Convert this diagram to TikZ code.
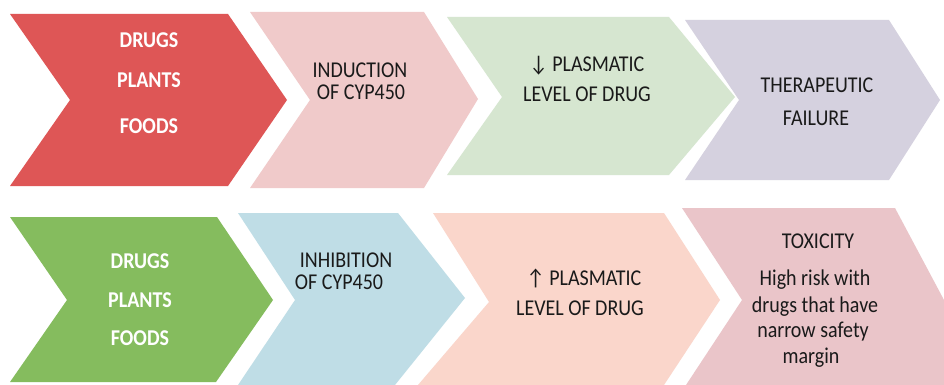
\documentclass[tikz,border=0pt]{standalone}
\usepackage{fontspec}
\setmainfont{Carlito}
\definecolor{cRed}{HTML}{DE5656}
\definecolor{cPinkA}{HTML}{F0CACA}
\definecolor{cGreenA}{HTML}{D6E6D0}
\definecolor{cPurple}{HTML}{D5D1DF}
\definecolor{cGreenB}{HTML}{85BC5E}
\definecolor{cBlue}{HTML}{BFDDE6}
\definecolor{cSalmon}{HTML}{FAD6CB}
\definecolor{cPinkB}{HTML}{EAC5C9}
\definecolor{cText}{HTML}{1A1A1A}
\newcommand{\tall}[1]{\scalebox{1}[1.13]{#1}}
\begin{document}
\begin{tikzpicture}[x=1pt,y=-1pt,
  lbl/.style={anchor=base,inner sep=0pt,text=cText,font=\fontsize{20}{23}\selectfont},
  wlbl/.style={lbl,text=white,font=\fontsize{20}{23}\selectfont\bfseries}]
\useasboundingbox[fill=white] (0,0) rectangle (944,385);
% top row
\fill[cRed]    (10,14) -- (228,14) -- (287,100) -- (228,186) -- (10,186) -- (70,100) -- cycle;
\fill[cPinkA]  (250,12) -- (424,12) -- (478,99) -- (424,188) -- (250,188) -- (310,100) -- cycle;
\fill[cGreenA] (447,17) -- (669,17) -- (735,97) -- (669,175) -- (447,175) -- (502,97) -- cycle;
\fill[cPurple] (685,20) -- (889,20) -- (940,100) -- (889,180) -- (685,180) -- (739,100) -- cycle;
% bottom row
\fill[cGreenB] (10,217) -- (217,217) -- (273,300) -- (216,382) -- (10,382) -- (67,300) -- cycle;
\fill[cBlue]   (238,213) -- (398,213) -- (465,298) -- (395,385) -- (238,385) -- (295,300) -- cycle;
\fill[cSalmon] (433,213) -- (664,213) -- (720,300) -- (664,385) -- (418,385) -- (489,302) -- cycle;
\fill[cPinkB]  (682,208) -- (895,208) -- (944,300) -- (944,385) -- (686,385) -- (742,300) -- cycle;
% texts top
\node[wlbl] (t1a) at (149,48) {\tall{DRUGS}};
\node[wlbl] (t1b) at (149,88) {\tall{PLANTS}};
\node[wlbl] (t1c) at (149,133) {\tall{FOODS}};
\node[lbl] (t2a) at (360,78) {\tall{INDUCTION}};
\node[lbl] (t2b) at (361,100) {\tall{OF CYP450}};
\node[lbl] (t3a) at (587,72) {\tall{↓ PLASMATIC}};
\node[lbl] (t3b) at (587,102) {\tall{LEVEL OF DRUG}};
\node[lbl] (t4a) at (817,93) {\tall{THERAPEUTIC}};
\node[lbl] (t4b) at (816,125) {\tall{FAILURE}};
% texts bottom
\node[wlbl] (b1a) at (140,268) {\tall{DRUGS}};
\node[wlbl] (b1b) at (140,307) {\tall{PLANTS}};
\node[wlbl] (b1c) at (140,345) {\tall{FOODS}};
\node[lbl] (b2a) at (346,267) {\tall{INHIBITION}};
\node[lbl] (b2b) at (339,289) {\tall{OF CYP450}};
\node[lbl] (b3a) at (584,285) {\tall{↑ PLASMATIC}};
\node[lbl] (b3b) at (580,315) {\tall{LEVEL OF DRUG}};
\node[lbl] (b4a) at (818,248) {\tall{TOXICITY}};
\node[lbl] (b4b) at (815,285) {\tall{High risk with}};
\node[lbl] (b4c) at (815,312) {\tall{drugs that have}};
\node[lbl] (b4d) at (813,337) {\tall{narrow safety}};
\node[lbl] (b4e) at (811,363) {\tall{margin}};
\end{tikzpicture}
\end{document}
